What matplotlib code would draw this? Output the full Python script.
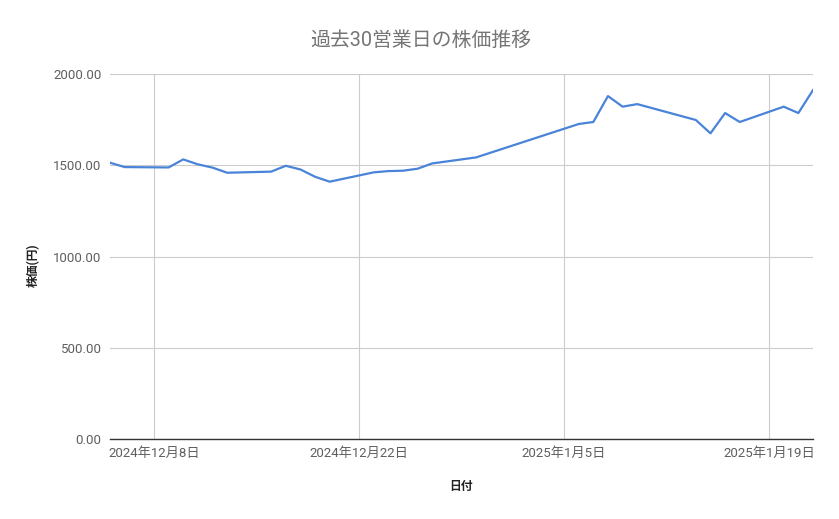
import matplotlib
matplotlib.use("Agg")
import matplotlib.pyplot as plt
import matplotlib.dates as mdates
import numpy as np
import datetime as dt

plt.rcParams['font.family'] = ['Roboto', 'Noto Sans CJK JP', 'DejaVu Sans']

dates = ["2024-12-05", "2024-12-06", "2024-12-09", "2024-12-10", "2024-12-11",
         "2024-12-12", "2024-12-13", "2024-12-16", "2024-12-17", "2024-12-18",
         "2024-12-19", "2024-12-20", "2024-12-23", "2024-12-24", "2024-12-25",
         "2024-12-26", "2024-12-27", "2024-12-30", "2025-01-06", "2025-01-07",
         "2025-01-08", "2025-01-09", "2025-01-10", "2025-01-14", "2025-01-15",
         "2025-01-16", "2025-01-17", "2025-01-20", "2025-01-21", "2025-01-22"]
prices = [1514, 1490, 1488, 1532, 1505, 1487, 1459, 1465, 1497, 1477,
          1437, 1410, 1461, 1468, 1470, 1481, 1510, 1543, 1726, 1737,
          1879, 1821, 1835, 1748, 1675, 1786, 1737, 1821, 1786, 1912]
tick_dates = ["2024-12-08", "2024-12-22", "2025-01-05", "2025-01-19"]
tick_labels = ["2024年12月8日", "2024年12月22日", "2025年1月5日", "2025年1月19日"]
y_ticks = [0, 500, 1000, 1500, 2000]

x = [dt.datetime.strptime(d, "%Y-%m-%d") for d in dates]
xt = [dt.datetime.strptime(d, "%Y-%m-%d") for d in tick_dates]

fig = plt.figure(figsize=(8.39, 5.19), dpi=100)
ax = fig.add_axes([110/839, 1-439/519, (813-110)/839, (439-74)/519])

ax.plot(x, prices, color="#4a84d8", lw=1.6, zorder=3, solid_joinstyle='round')

ax.set_xlim(x[0], x[-1])
ax.set_ylim(0, 2000)
ax.set_yticks(y_ticks)
ax.set_yticklabels([f"{v:.2f}" for v in y_ticks])
ax.set_xticks(xt)
ax.set_xticklabels(tick_labels)

ax.grid(True, color="#cccccc", lw=0.8, zorder=0)
for s in ["top", "right", "left"]:
    ax.spines[s].set_visible(False)
ax.spines["bottom"].set_color("#333333")
ax.spines["bottom"].set_linewidth(1.0)
ax.spines["bottom"].set_zorder(4)
ax.tick_params(axis="both", length=0, labelsize=9.5, colors="#5f5f5f")
ax.tick_params(axis="y", pad=6)
ax.tick_params(axis="x", pad=6)

fig.text(421/839, 1-40/519, "過去30営業日の株価推移", ha="center", va="center",
         fontsize=14.3, color="#757575")
fig.text(33/839, 1-265/519, "株価(円)", ha="center", va="center", rotation=90,
         fontsize=8.5, color="#222222", fontweight="bold")
fig.text(461/839, 1-486/519, "日付", ha="center", va="center",
         fontsize=8.5, color="#222222", fontweight="bold")

fig.savefig("out.png", dpi=100)
